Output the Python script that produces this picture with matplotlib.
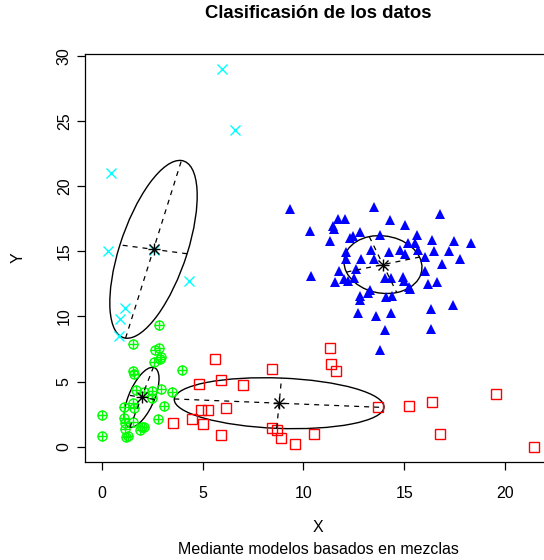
import matplotlib
matplotlib.use("Agg")
import matplotlib.pyplot as plt
from matplotlib.patches import Ellipse
import numpy as np

plt.rcParams['font.family'] = ['Liberation Sans', 'DejaVu Sans']

# Observations by cluster
cyan_x = [5.95, 6.61, 0.46, 0.30, 4.33, 1.14, 0.92, 0.87, 2.61]
cyan_y = [28.97, 24.27, 21.0, 15.04, 12.74, 10.67, 9.79, 8.53, 15.1]

green_x = [2.84, 1.54, 2.64, 2.85, 2.95, 2.90, 2.59, 3.99, 1.55, 1.59, 1.68, 2.10,
           2.51, 2.94, 3.50, 2.48, 1.09, 1.57, 1.59, 3.09, 0.03, 1.09, 1.57, 2.80,
           1.14, 2.00, 2.10, 1.90, 1.14, 0.03, 1.29, 1.22]
green_y = [9.35, 7.87, 7.43, 7.61, 6.92, 6.72, 6.54, 5.90, 5.80, 5.59, 4.37, 4.21,
           4.27, 4.42, 4.24, 3.78, 3.07, 3.37, 3.01, 3.16, 2.45, 2.20, 1.89, 2.12,
           1.86, 1.51, 1.56, 1.30, 1.38, 0.84, 0.84, 0.74]

red_x = [5.61, 8.44, 11.31, 11.38, 11.60, 5.90, 4.84, 7.02, 4.91, 5.28, 6.19, 4.47,
         5.00, 5.90, 8.47, 8.69, 8.89, 9.61, 10.52, 13.69, 15.23, 16.38, 19.57,
         16.80, 21.46, 3.55]
red_y = [6.72, 5.98, 7.56, 6.36, 5.80, 5.13, 4.80, 4.75, 2.81, 2.81, 3.01, 2.12,
         1.76, 0.94, 1.48, 1.28, 0.71, 0.25, 1.00, 3.09, 3.12, 3.45, 4.08,
         1.00, 0.00, 1.86]

blue_x = [9.33, 13.49, 16.78, 11.72, 12.09, 14.32, 15.03, 11.48, 11.51, 10.34,
          12.80, 12.44, 13.79, 15.66, 12.30, 11.30, 16.38, 17.46, 18.33, 15.18,
          15.53, 13.34, 14.27, 14.78, 15.04, 15.71, 16.48, 17.24, 12.14, 12.14,
          12.86, 13.51, 16.02, 17.76, 16.86, 12.60, 11.77, 10.36, 11.58, 12.01,
          12.21, 12.50, 14.04, 14.34, 14.92, 14.98, 16.02, 16.17, 16.65, 15.26,
          15.29, 13.33, 14.10, 14.40, 12.80, 12.81, 13.21, 16.35, 17.42, 12.72,
          13.58, 14.37, 14.04, 16.33, 13.78]
blue_y = [18.21, 18.41, 17.85, 17.49, 17.45, 17.42, 17.03, 16.96, 16.68, 16.53,
          16.50, 16.17, 16.22, 16.22, 16.02, 15.79, 15.86, 15.79, 15.61, 15.66,
          15.61, 15.10, 14.94, 15.07, 14.79, 15.10, 15.04, 15.04, 14.92, 14.38,
          14.38, 14.38, 14.56, 14.41, 14.05, 13.64, 13.49, 13.10, 12.64, 12.90,
          12.74, 12.97, 12.97, 12.97, 13.00, 12.70, 13.51, 12.47, 12.64, 12.28,
          12.08, 12.03, 11.52, 11.57, 11.57, 11.26, 11.78, 10.57, 10.90, 10.27,
          10.06, 10.25, 8.94, 9.02, 7.43]

# Fitted mixture components: mean, semi-axes and orientation of the major axis
comp_mx = [2.57, 1.98, 8.80, 13.95]
comp_my = [15.15, 3.80, 3.35, 13.98]
comp_major = [6.95, 2.37, 5.21, 2.25]
comp_minor = [1.70, 0.66, 1.93, 1.90]
comp_angle = [78.5, 75.8, -3.6, -72.4]

fig = plt.figure(figsize=(5.44, 5.6), dpi=100)
W, H = 544, 560

all_x = np.concatenate([cyan_x, green_x, red_x, blue_x])
all_y = np.concatenate([cyan_y, green_y, red_y, blue_y])
dx = all_x.max() - all_x.min()
dy = all_y.max() - all_y.min()
xlim = (all_x.min() - 0.04 * dx, all_x.max() + 0.04 * dx)
ylim = (all_y.min() - 0.04 * dy, all_y.max() + 0.04 * dy)

left_px, right_px, top_px, bottom_px = 85, 551.7, 54, 462
ax = fig.add_axes([left_px / W, 1 - bottom_px / H,
                   (right_px - left_px) / W, (bottom_px - top_px) / H])
ax.set_xlim(*xlim)
ax.set_ylim(*ylim)

ms = 6.5
ax.plot(cyan_x, cyan_y, linestyle='none', marker='x', color='#00FFFF',
        markersize=ms, markeredgewidth=1.0)
ax.plot(green_x, green_y, linestyle='none', marker='o', markerfacecolor='none',
        markeredgecolor='#00FF00', markersize=ms, markeredgewidth=1.0)
ax.plot(green_x, green_y, linestyle='none', marker='+', color='#00FF00',
        markersize=ms, markeredgewidth=1.0)
ax.plot(red_x, red_y, linestyle='none', marker='s', markerfacecolor='none',
        markeredgecolor='#FF0000', markersize=ms, markeredgewidth=1.0)
ax.plot(blue_x, blue_y, linestyle='none', marker='^', color='#0000FF',
        markersize=7.0, markeredgewidth=0)

for mx, my, a, b, ang in zip(comp_mx, comp_my, comp_major, comp_minor, comp_angle):
    ax.add_patch(Ellipse((mx, my), 2 * a, 2 * b, angle=ang, fill=False,
                         edgecolor='black', linewidth=1.0))
    t = np.deg2rad(ang)
    ux, uy = np.cos(t), np.sin(t)
    ax.plot([mx - a * ux, mx + a * ux], [my - a * uy, my + a * uy],
            color='black', linestyle=(0, (4, 4)), linewidth=0.9)
    ax.plot([mx + b * uy, mx - b * uy], [my - b * ux, my + b * ux],
            color='black', linestyle=(0, (4, 4)), linewidth=0.9)
    ax.plot([mx], [my], marker='+', color='black', markersize=9, markeredgewidth=1.0)
    ax.plot([mx], [my], marker='x', color='black', markersize=7, markeredgewidth=1.0)

ax.set_xticks([0, 5, 10, 15, 20])
ax.set_yticks([0, 5, 10, 15, 20, 25, 30])
ax.tick_params(axis='both', direction='out', length=6, width=0.9, labelsize=11.5,
               color='black')
ax.tick_params(axis='x', pad=11)
ax.tick_params(axis='y', pad=3.5)
for lab in ax.get_yticklabels():
    lab.set_rotation(90)
    lab.set_va('center')
for sp in ax.spines.values():
    sp.set_linewidth(0.9)

cx = (left_px + right_px) / 2 / W
fig.text(cx, 1 - 14 / H, 'Clasificasión de los datos', ha='center', va='center',
         fontsize=13.3, fontweight='bold')
fig.text(cx, 1 - 528 / H, 'X', ha='center', va='center', fontsize=11.5)
fig.text(cx, 1 - 549 / H, 'Mediante modelos basados en mezclas', ha='center',
         va='center', fontsize=11.5)
fig.text(18 / W, 1 - 258 / H, 'Y', ha='center', va='center', rotation=90,
         fontsize=11.5)

fig.savefig('out.png', dpi=100)
